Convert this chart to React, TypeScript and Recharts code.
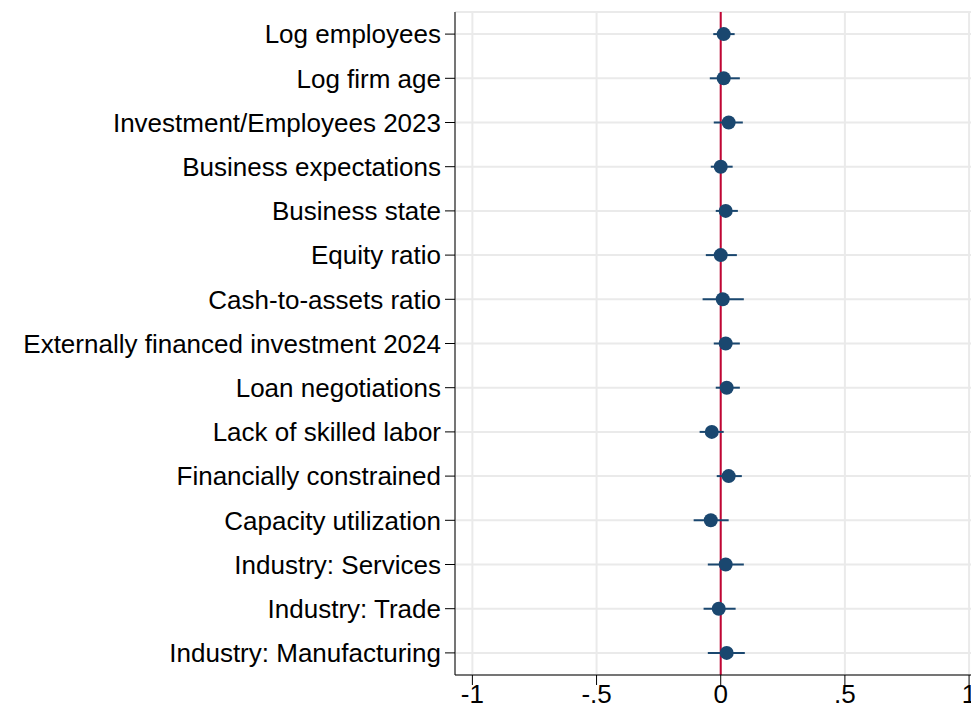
import { ScatterChart, Scatter, XAxis, YAxis, CartesianGrid, ReferenceLine, ErrorBar } from 'recharts'

const labels = [
  'Log employees', 'Log firm age', 'Investment/Employees 2023', 'Business expectations',
  'Business state', 'Equity ratio', 'Cash-to-assets ratio', 'Externally financed investment 2024',
  'Loan negotiations', 'Lack of skilled labor', 'Financially constrained', 'Capacity utilization',
  'Industry: Services', 'Industry: Trade', 'Industry: Manufacturing',
]
const coef = [0.012, 0.012, 0.032, 0, 0.02, 0, 0.008, 0.02, 0.024, -0.036, 0.032, -0.04, 0.02, -0.008, 0.024]
const lower = [-0.03, -0.044, -0.028, -0.04, -0.02, -0.06, -0.073, -0.028, -0.02, -0.085, -0.016, -0.109, -0.052, -0.069, -0.052]
const upper = [0.056, 0.077, 0.089, 0.048, 0.069, 0.065, 0.093, 0.077, 0.077, 0.012, 0.085, 0.032, 0.093, 0.06, 0.097]
const xTicks = [-1, -0.5, 0, 0.5, 1]
const xTickLabels = ['-1', '-.5', '0', '.5', '1']

const data = labels.map((l, i) => ({
  row: i + 1,
  coef: coef[i],
  err: [coef[i] - lower[i], upper[i] - coef[i]],
}))

const tickFont = { fontSize: 26, fill: '#000', fontFamily: 'Liberation Sans, Arial, sans-serif' }

export default function App() {
  return (
    <ScatterChart width={971} height={704} margin={{ top: 4, right: 0, bottom: 8, left: 0 }}>
      <CartesianGrid stroke="#eaeaea" strokeWidth={2} vertical horizontal />
      <XAxis
        type="number"
        dataKey="coef"
        domain={[-1.07, 1.04]}
        ticks={xTicks}
        tickFormatter={(v: number) => xTickLabels[xTicks.indexOf(v)]}
        tick={tickFont}
        tickSize={10}
        tickMargin={0}
        height={29}
        stroke="#000"
        allowDataOverflow
      />
      <YAxis
        type="number"
        dataKey="row"
        domain={[0.5, 15.5]}
        reversed
        ticks={data.map(d => d.row)}
        tickFormatter={(v: number) => labels[v - 1]}
        tick={tickFont}
        tickSize={10}
        tickMargin={4}
        width={447}
        stroke="#000"
        interval={0}
      />
      <ReferenceLine x={0} stroke="#c10534" strokeWidth={2} />
      <Scatter data={data} fill="#1a476f" isAnimationActive={false}
        shape={(p: any) => <circle cx={p.cx} cy={p.cy} r={7} fill="#1a476f" />}>
        <ErrorBar dataKey="err" direction="x" stroke="#1a476f" strokeWidth={2} width={0} />
      </Scatter>
    </ScatterChart>
  )
}
